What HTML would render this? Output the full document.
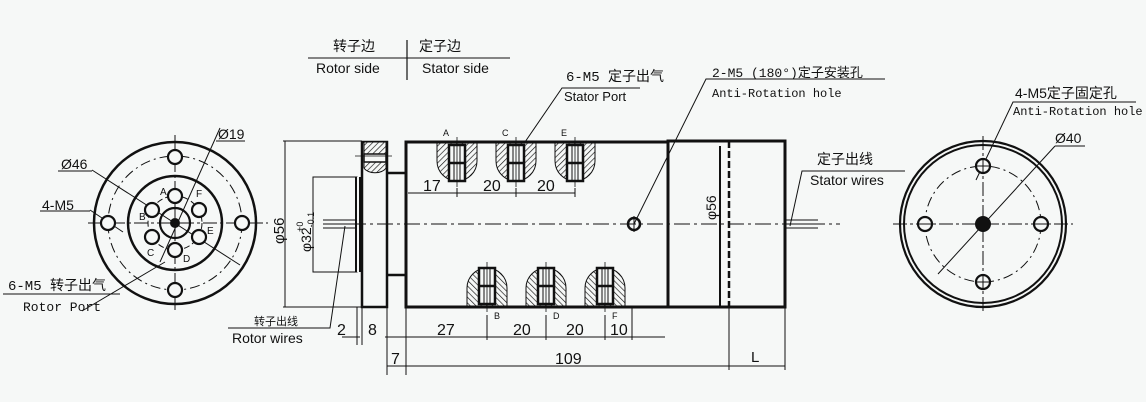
<!DOCTYPE html>
<html><head><meta charset="utf-8"><style>
html,body{margin:0;padding:0;background:#f6f8f7;}
svg{display:block;}
text{font-family:"Liberation Sans","Noto Sans CJK SC",sans-serif;fill:#111;}
.m{font-family:"Liberation Mono","Noto Sans CJK SC",monospace;}
</style></head><body>
<svg width="1146" height="402" viewBox="0 0 1146 402" xmlns="http://www.w3.org/2000/svg">
<defs>
<pattern id="h" width="4" height="4" patternUnits="userSpaceOnUse" patternTransform="rotate(45)">
<rect width="4" height="4" fill="#f6f8f7"/><line x1="0" y1="0" x2="0" y2="4" stroke="#111" stroke-width="1.3"/></pattern>
<g id="portT">
<path d="M-20,0 L-20,18 A20,20 0 0 0 20,18 L20,0 Z" fill="url(#h)" stroke="#111" stroke-width="1"/>
<rect x="-8" y="2" width="16" height="36" fill="#f6f8f7" stroke="#111" stroke-width="2.5"/>
<line x1="-8" y1="20" x2="8" y2="20" stroke="#111" stroke-width="2.5"/>
<line x1="-3" y1="2" x2="-3" y2="38" stroke="#111" stroke-width="1"/>
<line x1="3" y1="2" x2="3" y2="38" stroke="#111" stroke-width="1"/>
<line x1="0" y1="-6" x2="0" y2="44" stroke="#111" stroke-width="0.8"/>
</g>
<g id="hole"><circle r="7" fill="#f6f8f7" stroke="#111" stroke-width="2.2"/></g>
</defs>
<rect width="1146" height="402" fill="#f6f8f7"/>

<text x="333" y="51" font-size="14">转子边</text>
<text x="419" y="51" font-size="14">定子边</text>
<line x1="308" y1="58" x2="510" y2="58" stroke="#111" stroke-width="1"/>
<line x1="407" y1="40" x2="407" y2="80" stroke="#111" stroke-width="1.2"/>
<text x="316" y="73" font-size="14">Rotor side</text>
<text x="422" y="73" font-size="14">Stator side</text>

<g stroke="#111" fill="none">
<circle cx="175" cy="223" r="81" stroke-width="2.5"/>
<circle cx="175" cy="223" r="67" stroke-width="1" stroke-dasharray="10,4,2,4"/>
<circle cx="175" cy="223" r="47" stroke-width="2.5"/>
<circle cx="175" cy="223" r="27" stroke-width="1" stroke-dasharray="6,3"/>
<circle cx="175" cy="223" r="15" stroke-width="2.2"/>
<line x1="88" y1="223" x2="268" y2="223" stroke-width="1" stroke-dasharray="14,3,3,3"/>
<line x1="175" y1="135" x2="175" y2="312" stroke-width="1" stroke-dasharray="14,3,3,3"/>
<line x1="92" y1="170" x2="240" y2="265" stroke-width="1"/>
<line x1="220" y1="128" x2="160" y2="262" stroke-width="1"/>
<line x1="82" y1="311" x2="165" y2="262" stroke-width="1"/>
<line x1="90" y1="210" x2="123" y2="232" stroke-width="1"/>
</g>
<circle cx="175" cy="223" r="5" fill="#111"/>
<use href="#hole" x="175" y="157"/><use href="#hole" x="175" y="290"/>
<use href="#hole" x="108" y="223"/><use href="#hole" x="242" y="223"/>
<use href="#hole" x="175" y="196"/><use href="#hole" x="175" y="250"/>
<use href="#hole" x="152" y="210"/><use href="#hole" x="152" y="237"/>
<use href="#hole" x="199" y="210"/><use href="#hole" x="199" y="237"/>
<g font-size="10"><text x="160" y="195">A</text><text x="139" y="220">B</text><text x="147" y="256">C</text><text x="183" y="262">D</text><text x="207" y="234">E</text><text x="196" y="197">F</text></g>
<text x="218" y="139" font-size="14">Ø19</text><line x1="216" y1="141" x2="245" y2="141" stroke="#111"/>
<text x="61" y="169" font-size="14">Ø46</text><line x1="58" y1="171" x2="92" y2="171" stroke="#111"/>
<text x="42" y="210" font-size="14">4-M5</text><line x1="40" y1="211" x2="90" y2="211" stroke="#111"/>
<text x="8" y="290" font-size="14" class="m">6-M5 转子出气</text><line x1="3" y1="294" x2="120" y2="294" stroke="#111"/>
<text x="23" y="311" font-size="13" class="m">Rotor Port</text>

<g stroke="#111" fill="none">
<line x1="285" y1="141" x2="285" y2="307" stroke-width="1"/>
<line x1="283" y1="141" x2="362" y2="141" stroke-width="1"/>
<line x1="283" y1="307" x2="362" y2="307" stroke-width="1"/>
<rect x="313" y="177" width="44" height="95" stroke-width="1"/>
<rect x="355" y="177" width="6" height="95" fill="#111" stroke-width="0"/>
<rect x="357" y="177" width="2" height="95" fill="#f6f8f7" stroke-width="0"/>
<rect x="362" y="142" width="25" height="165" stroke-width="2.5"/>
<path d="M364,142 h22 v12 h-22z" fill="url(#h)" stroke-width="1"/>
<path d="M364,162 h22 v6 a12,8 0 0 1 -22,0z" fill="url(#h)" stroke-width="1"/>
<rect x="364" y="154" width="22" height="8" stroke-width="1.5"/>
<line x1="355" y1="156" x2="392" y2="156" stroke-width="0.8"/>
<line x1="387" y1="173" x2="406" y2="173" stroke-width="2.5"/>
<line x1="387" y1="275" x2="406" y2="275" stroke-width="2.5"/>
<rect x="406" y="142" width="262" height="165" stroke-width="3"/>
<rect x="668" y="141" width="117" height="166" stroke-width="3"/>
<line x1="720" y1="146" x2="720" y2="306" stroke-width="2"/>
<line x1="729" y1="141" x2="729" y2="307" stroke-width="2.5" stroke-dasharray="7,3"/>
<line x1="323" y1="224" x2="840" y2="224" stroke-width="1" stroke-dasharray="16,4,3,4"/>
<line x1="323" y1="220" x2="356" y2="220" stroke-width="1"/><line x1="323" y1="224" x2="356" y2="224" stroke-width="1"/><line x1="323" y1="228" x2="356" y2="228" stroke-width="1"/>
<line x1="785" y1="220" x2="818" y2="220" stroke-width="1"/><line x1="785" y1="224" x2="818" y2="224" stroke-width="1"/><line x1="785" y1="228" x2="818" y2="228" stroke-width="1"/>
<circle cx="634" cy="224" r="6" stroke-width="2.5"/>
<line x1="634" y1="216" x2="634" y2="232" stroke-width="1"/>
</g>
<use href="#portT" x="457" y="143"/><use href="#portT" x="516" y="143"/><use href="#portT" x="575" y="143"/>
<use href="#portT" transform="translate(487,306) scale(1,-1)"/>
<use href="#portT" transform="translate(546,306) scale(1,-1)"/>
<use href="#portT" transform="translate(605,306) scale(1,-1)"/>
<g font-size="9"><text x="443" y="136">A</text><text x="502" y="136">C</text><text x="561" y="136">E</text>
<text x="494" y="319">B</text><text x="553" y="319">D</text><text x="612" y="319">F</text></g>
<text x="716" y="220" font-size="14" transform="rotate(-90 716 220)">φ56</text>
<text x="284" y="244" font-size="15" transform="rotate(-90 284 244)">φ56</text>
<text x="311" y="252" font-size="14" transform="rotate(-90 311 252)">φ32<tspan font-size="9" dy="3">-0.1</tspan><tspan font-size="9" dx="-20" dy="-11">+0</tspan></text>

<g stroke="#111" stroke-width="1">
<line x1="408" y1="193" x2="575" y2="193"/>
<line x1="457" y1="188" x2="457" y2="197"/><line x1="516" y1="188" x2="516" y2="197"/><line x1="575" y1="188" x2="575" y2="197"/>
<line x1="385" y1="337" x2="665" y2="337"/><line x1="342" y1="337" x2="360" y2="337"/>
<line x1="362" y1="307" x2="362" y2="345"/><line x1="357" y1="307" x2="357" y2="345"/><line x1="387" y1="307" x2="387" y2="375"/>
<line x1="406" y1="307" x2="406" y2="375"/><line x1="487" y1="315" x2="487" y2="340"/><line x1="546" y1="315" x2="546" y2="340"/><line x1="605" y1="315" x2="605" y2="340"/><line x1="632" y1="307" x2="632" y2="340"/>
<line x1="387" y1="366" x2="785" y2="366"/>
<line x1="729" y1="307" x2="729" y2="370"/><line x1="785" y1="307" x2="785" y2="370"/>
</g>
<g font-size="16"><text x="423" y="191">17</text><text x="483" y="191">20</text><text x="537" y="191">20</text>
<text x="337" y="335">2</text><text x="368" y="335">8</text><text x="437" y="335">27</text><text x="513" y="335">20</text><text x="566" y="335">20</text><text x="610" y="335">10</text>
<text x="391" y="364">7</text><text x="555" y="364">109</text></g>
<text x="751" y="362" font-size="15" font-family="Liberation Serif">L</text>

<g stroke="#111" stroke-width="1" fill="none">
<polyline points="525,142 562,88 640,88"/>
<polyline points="634,224 706,79 885,79"/>
<polyline points="345,226 330,328 228,328"/>
<polyline points="790,226 802,171 905,171"/>
</g>
<text x="566" y="81" font-size="14" class="m">6-M5 定子出气</text>
<text x="564" y="101" font-size="13">Stator Port</text>
<text x="712" y="77" font-size="13" class="m">2-M5 (180°)定子安装孔</text>
<text x="712" y="97" font-size="12" class="m">Anti-Rotation hole</text>
<text x="254" y="325" font-size="11">转子出线</text>
<text x="232" y="343" font-size="14">Rotor wires</text>
<text x="817" y="164" font-size="14">定子出线</text>
<text x="810" y="185" font-size="14">Stator wires</text>

<g stroke="#111" fill="none">
<circle cx="983" cy="224" r="83" stroke-width="2.2"/>
<circle cx="983" cy="224" r="79" stroke-width="2"/>
<circle cx="983" cy="224" r="58" stroke-width="1" stroke-dasharray="10,4,2,4"/>
<line x1="893" y1="224" x2="1073" y2="224" stroke-width="1" stroke-dasharray="14,3,3,3"/>
<line x1="983" y1="136" x2="983" y2="312" stroke-width="1" stroke-dasharray="14,3,3,3"/>
<line x1="938" y1="274" x2="1055" y2="146" stroke-width="1"/>
<polyline points="976,180 1013,102 1136,102" stroke-width="1"/>
<line x1="1055" y1="146" x2="1085" y2="146" stroke-width="1"/>
</g>
<circle cx="983" cy="224" r="8" fill="#111"/>
<use href="#hole" x="983" y="166"/><use href="#hole" x="983" y="282"/><use href="#hole" x="925" y="224"/><use href="#hole" x="1041" y="224"/>
<g stroke="#111" stroke-width="1"><line x1="983" y1="159" x2="983" y2="173"/><line x1="976" y1="166" x2="990" y2="166"/><line x1="983" y1="275" x2="983" y2="289"/><line x1="976" y1="282" x2="990" y2="282"/><line x1="918" y1="224" x2="932" y2="224"/><line x1="1034" y1="224" x2="1048" y2="224"/></g>
<text x="1015" y="98" font-size="14">4-M5定子固定孔</text>
<text x="1013" y="115" font-size="12" class="m">Anti-Rotation hole</text>
<text x="1055" y="143" font-size="14">Ø40</text>
</svg>
</body></html>
